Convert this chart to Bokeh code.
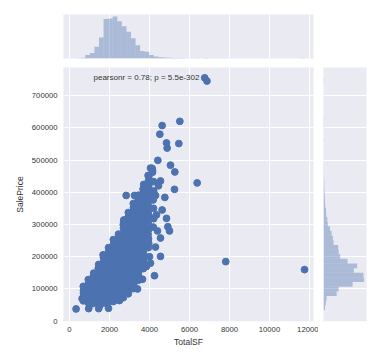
import numpy as np
from bokeh.plotting import figure
from bokeh.layouts import column, row
from bokeh.models import Range1d, FixedTicker, BasicTickFormatter, Label, Grid
from bokeh.embed import file_html
from bokeh.resources import INLINE

# ---------------- data ----------------
x_ticks = [0, 2000, 4000, 6000, 8000, 10000, 12000]
y_ticks = [0, 100000, 200000, 300000, 400000, 500000, 600000, 700000]

total_sf = [
    330, 960, 1460, 1950, 1000, 1500, 630, 700,
    2500, 2717, 2833, 3250, 4250, 4050, 4550, 4550,
    4633, 4850, 4917, 5000, 4767, 5250, 5267, 5050,
    4417, 4883, 4850, 5467, 4517, 4633, 5517,
    4150, 4050, 4133, 3967, 4550,
    6383, 6760, 6872, 7814, 11752,
    3400, 3650, 3850, 4000, 4300, 4400, 4350, 4300, 4450,
    690, 710, 700, 720, 690,
    940, 960, 950, 930, 960, 950, 940,
    1190, 1210, 1200, 1220, 1190, 1210, 1200, 1180, 1210,
    1440, 1460, 1450, 1430, 1460, 1450, 1440, 1470, 1450, 1440, 1460,
    1690, 1710, 1700, 1720, 1690, 1710, 1700, 1680, 1710, 1700, 1690, 1720, 1700, 1680,
    1940, 1960, 1950, 1930, 1960, 1950, 1940, 1970, 1950, 1940, 1960, 1950, 1930, 1960, 1950,
    2190, 2210, 2200, 2220, 2190, 2210, 2200, 2180, 2210, 2200, 2190, 2220, 2200, 2180, 2210, 2200, 2190,
    2440, 2460, 2450, 2430, 2460, 2450, 2440, 2470, 2450, 2440, 2460, 2450, 2430, 2460, 2450, 2440, 2460, 2450,
    2690, 2710, 2700, 2720, 2690, 2710, 2700, 2680, 2710, 2700, 2690, 2720, 2700, 2680, 2710, 2700, 2690, 2720, 2700, 2690, 2710,
    2940, 2960, 2950, 2930, 2960, 2950, 2940, 2970, 2950, 2940, 2960, 2950, 2930, 2960, 2950, 2940, 2960, 2950, 2930, 2960, 2950, 2940,
    3190, 3210, 3200, 3220, 3190, 3210, 3200, 3180, 3210, 3200, 3190, 3220, 3200, 3180, 3210, 3200, 3190, 3220, 3200, 3180, 3210, 3200, 3190,
    3440, 3460, 3450, 3430, 3460, 3450, 3440, 3470, 3450, 3440, 3460, 3450, 3430, 3460, 3450, 3440, 3460, 3450, 3430, 3460, 3450, 3440, 3460,
    3690, 3710, 3700, 3720, 3690, 3710, 3700, 3680, 3710, 3700, 3690, 3720, 3700, 3680, 3710, 3700, 3690, 3720, 3700, 3680, 3710,
    3940, 3960, 3950, 3930, 3960, 3950, 3940, 3960, 3950, 3930, 3960, 3950, 3940, 3960, 3950, 3930,
    4190, 4210, 4200, 4180, 4210, 4200, 4150,
]
sale_price = [
    38000, 39000, 39000, 40000, 50000, 47000, 70000, 95000,
    64000, 314000, 390000, 390000, 141000, 180000, 201000, 258000,
    345000, 319000, 293000, 280000, 384000, 409000, 463000, 484000,
    499000, 537000, 553000, 551000, 580000, 607000, 620000,
    468000, 475000, 474000, 450000, 435000,
    429000, 755000, 745000, 184750, 160000,
    100000, 130000, 170000, 200000, 230000, 280000, 330000, 390000, 420000,
    63000, 75000, 87000, 99000, 108000,
    58000, 69000, 81000, 93000, 105000, 117000, 129000,
    55000, 66000, 77000, 89000, 101000, 113000, 125000, 137000, 149000,
    57000, 68000, 80000, 92000, 104000, 116000, 128000, 140000, 152000, 164000, 176000,
    56000, 67000, 79000, 91000, 103000, 115000, 127000, 139000, 151000, 163000, 175000, 187000, 198000, 206000,
    60000, 72000, 84000, 96000, 108000, 120000, 132000, 144000, 156000, 168000, 180000, 192000, 204000, 216000, 228000,
    61000, 73000, 85000, 97000, 109000, 121000, 133000, 145000, 157000, 169000, 181000, 193000, 205000, 217000, 229000, 241000, 253000,
    66000, 78000, 90000, 102000, 114000, 126000, 138000, 150000, 162000, 174000, 186000, 198000, 210000, 222000, 234000, 246000, 258000, 270000,
    73000, 85000, 97000, 109000, 121000, 133000, 145000, 157000, 169000, 181000, 193000, 205000, 217000, 229000, 241000, 253000, 265000, 277000, 289000, 300000, 310000,
    85000, 97000, 109000, 121000, 133000, 145000, 157000, 169000, 181000, 193000, 205000, 217000, 229000, 241000, 253000, 265000, 277000, 289000, 301000, 313000, 325000, 337000,
    101000, 113000, 125000, 137000, 149000, 161000, 173000, 185000, 197000, 209000, 221000, 233000, 245000, 257000, 269000, 281000, 293000, 305000, 317000, 329000, 341000, 353000, 365000,
    127000, 139000, 151000, 163000, 175000, 187000, 199000, 211000, 223000, 235000, 247000, 259000, 271000, 283000, 295000, 307000, 319000, 331000, 343000, 355000, 367000, 379000, 391000,
    163000, 176000, 189000, 202000, 215000, 228000, 241000, 254000, 267000, 280000, 293000, 306000, 319000, 332000, 345000, 358000, 371000, 384000, 397000, 410000, 424000,
    228000, 242000, 256000, 270000, 285000, 300000, 315000, 330000, 345000, 360000, 375000, 390000, 405000, 420000, 436000, 452000,
    292000, 318000, 350000, 376000, 404000, 433000, 462000,
]

# marginal histograms: 50 bins over the data range
tsf_min, tsf_max = 334, 11752
price_min, price_max = 34900, 755000
tsf_hist_counts = [1, 3, 13, 21, 44, 79, 149, 151, 158, 141,
                   122, 101, 76, 50, 28, 25, 13, 8, 5, 4,
                   3, 2, 2, 1, 0, 0, 1, 0, 2, 0,
                   0, 0, 1, 0, 0, 0, 0, 0, 0, 0,
                   0, 0, 0, 0, 0, 0, 0, 0, 0, 1]
price_hist_counts = [6, 9, 12, 52, 60, 115, 160, 158, 120, 133,
                     95, 66, 60, 58, 40, 37, 32, 26, 17, 15,
                     11, 10, 7, 6, 5, 4, 3, 3, 2, 1,
                     1, 1, 0, 0, 0, 0, 1, 0, 0, 1,
                     1, 1, 0, 0, 0, 0, 0, 0, 0, 2]
annotation = "pearsonr = 0.78; p = 5.5e-302"

# ---------------- styling ----------------
BLUE = "#4C72B0"
BG = "#EAEAF2"
TXT = "#333333"
FONT = "Liberation Sans"

xr = Range1d(-300, 12200)
yr = Range1d(-1000, 787000)


def base(p):
    p.background_fill_color = BG
    p.border_fill_color = "white"
    p.outline_line_color = None


main = figure(width=318, height=287, x_range=xr, y_range=yr,
              min_border_left=63, min_border_right=5,
              min_border_top=5, min_border_bottom=27,
              toolbar_location=None, output_backend="svg")
base(main)
main.grid.grid_line_color = "white"
main.grid.grid_line_width = 1
main.xaxis.ticker = FixedTicker(ticks=x_ticks)
main.yaxis.ticker = FixedTicker(ticks=y_ticks)
for ax in main.axis:
    ax.axis_line_color = None
    ax.major_tick_line_color = None
    ax.minor_tick_line_color = None
    ax.major_tick_out = 0
    ax.major_tick_in = 0
    ax.minor_tick_out = 0
    ax.minor_tick_in = 0
    ax.major_label_text_font = FONT
    ax.major_label_text_font_size = "7.7px"
    ax.major_label_text_color = TXT
    ax.axis_label_text_font = FONT
    ax.axis_label_text_font_size = "8.5px"
    ax.axis_label_text_font_style = "normal"
    ax.axis_label_text_color = TXT
    ax.formatter = BasicTickFormatter(use_scientific=False)
main.xaxis.axis_label = "TotalSF"
main.yaxis.axis_label = "SalePrice"
main.xaxis.major_label_standoff = 5
main.yaxis.major_label_standoff = 6
main.xaxis.axis_label_standoff = 2
main.yaxis.axis_label_standoff = 4

main.scatter(total_sf, sale_price, size=6.8, fill_color=BLUE, line_color=BLUE)
main.add_layout(Label(x=1200, y=756000, text=annotation, text_font=FONT,
                      text_font_size="8px", text_color=TXT,
                      text_baseline="middle"))

# top marginal
top = figure(width=318, height=62, x_range=xr, y_range=Range1d(0, 166),
             min_border_left=63, min_border_right=5,
             min_border_top=14, min_border_bottom=4,
             x_axis_location=None, y_axis_location=None,
             toolbar_location=None, output_backend="svg")
base(top)
for g in list(top.grid):
    g.visible = False
top.add_layout(Grid(dimension=0, ticker=FixedTicker(ticks=x_ticks),
                    grid_line_color="white", grid_line_width=1))
tsf_edges = np.linspace(tsf_min, tsf_max, len(tsf_hist_counts) + 1)
top.quad(left=tsf_edges[:-1], right=tsf_edges[1:], bottom=0, top=tsf_hist_counts,
         fill_color=BLUE, fill_alpha=0.4, line_color=None)

# right marginal
right = figure(width=52, height=287, x_range=Range1d(0, 170), y_range=yr,
               min_border_left=5, min_border_right=4,
               min_border_top=5, min_border_bottom=27,
               x_axis_location=None, y_axis_location=None,
               toolbar_location=None, output_backend="svg")
base(right)
for g in list(right.grid):
    g.visible = False
right.add_layout(Grid(dimension=1, ticker=FixedTicker(ticks=y_ticks),
                      grid_line_color="white", grid_line_width=1))
price_edges = np.linspace(price_min, price_max, len(price_hist_counts) + 1)
right.quad(left=0, right=price_hist_counts, bottom=price_edges[:-1], top=price_edges[1:],
           fill_color=BLUE, fill_alpha=0.4, line_color=None)

layout = column(top, row(main, right))
open("out.html", "w").write(file_html(layout, INLINE))
